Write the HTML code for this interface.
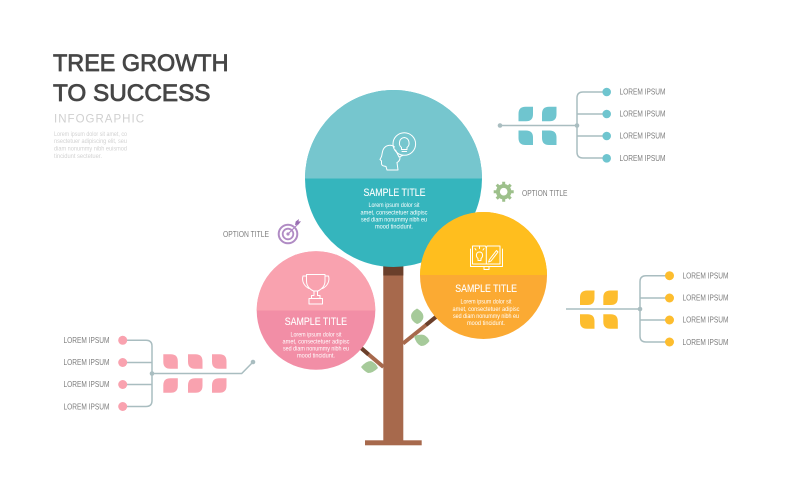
<!DOCTYPE html>
<html><head><meta charset="utf-8"><style>
html,body{margin:0;padding:0;background:#fff;width:790px;height:500px;overflow:hidden}
svg{display:block}
text{font-family:"Liberation Sans",sans-serif}
.l{font-size:8px;fill:#7d7d7d}
.t{font-size:11px;fill:#fff;stroke:#fff;stroke-width:.12}
.p{font-size:6px;fill:#fff;text-anchor:middle}
.g{font-size:6.5px;fill:#d2d2d2}
.w{fill:none;stroke:#fff;stroke-width:1;stroke-linejoin:round;stroke-linecap:round}
.c{fill:none;stroke:#a9bdc0;stroke-width:1.5}
.h{font-size:24.5px;fill:#464646;stroke:#464646;stroke-width:.8}
</style></head><body>
<svg width="790" height="500" viewBox="0 0 790 500" xmlns="http://www.w3.org/2000/svg">
<defs>
<path id="a" d="M14.5,0V7.5Q14.5,14.5 7.5,14.5H0V7Q0,0 7,0Z"/>
<path id="b" d="M0,0H7.5Q14.5,0 14.5,7V14.5H7Q0,14.5 0,7.5Z"/>
<clipPath id="c1"><rect x="300" y="85" width="190" height="93.5"/></clipPath>
<clipPath id="c2"><rect x="415" y="205" width="140" height="70"/></clipPath>
<clipPath id="c3"><rect x="250" y="245" width="130" height="65.5"/></clipPath>
</defs>

<text class="h" x="53" y="71" textLength="175.5" lengthAdjust="spacingAndGlyphs">TREE GROWTH</text>
<text class="h" x="53" y="101" textLength="157.5" lengthAdjust="spacingAndGlyphs">TO SUCCESS</text>
<text x="54" y="122.5" font-size="11.5" fill="#d0d0d0" textLength="90">INFOGRAPHIC</text>
<text class="g" x="54" y="136" textLength="73" lengthAdjust="spacingAndGlyphs">Lorem ipsum dolor sit amet, co</text>
<text class="g" x="54" y="143" textLength="73" lengthAdjust="spacingAndGlyphs">nsectetuer adipiscing elit, seu</text>
<text class="g" x="54" y="150.5" textLength="73" lengthAdjust="spacingAndGlyphs">diam nonummy nibh euismod</text>
<text class="g" x="54" y="158" textLength="48" lengthAdjust="spacingAndGlyphs">tincidunt sectetuer.</text>

<!-- tree -->
<rect x="383.3" y="262" width="20" height="180" fill="#a7694c"/>
<rect x="383.3" y="262" width="20" height="13.5" fill="#6a3f2b"/>
<rect x="365" y="440.3" width="56.7" height="5" fill="#a7694c"/>
<path d="M403,343.5L436,317" stroke="#a7694c" stroke-width="4" fill="none"/>
<path d="M426,325L437,316" stroke="#6a3f2b" stroke-width="4" fill="none"/>
<path d="M383.5,367L361,348" stroke="#a7694c" stroke-width="4" fill="none"/>
<path d="M368.5,354.5L360,347" stroke="#6a3f2b" stroke-width="4" fill="none"/>
<path d="M417,308.5Q425,313 423,319Q421,323 417,324Q411,321 411,316Q411,312 417,308.5Z" fill="#a6ca9a"/>
<path d="M414,336Q420,334 424,335Q428,337 429.5,341Q426,346 421,346Q416,344 414,336Z" fill="#a6ca9a"/>
<path d="M361,367Q366,361 371,361Q376,363 378,368Q373,373 368,373Q364,371 361,367Z" fill="#a6ca9a"/>

<!-- teal -->
<circle cx="393.5" cy="178.5" r="88.5" fill="#35b5bd"/>
<circle cx="393.5" cy="178.5" r="88.5" fill="#76c6ce" clip-path="url(#c1)"/>
<!-- pink -->
<circle cx="316" cy="310.5" r="59.3" fill="#f28ea6"/>
<circle cx="316" cy="310.5" r="59.3" fill="#f9a2af" clip-path="url(#c3)"/>
<!-- yellow -->
<circle cx="483.5" cy="275.5" r="63.5" fill="#fbaa33"/>
<circle cx="483.5" cy="275.5" r="63.5" fill="#ffbe1e" clip-path="url(#c2)"/>

<!-- head icon -->
<g class="w">
<circle cx="404.3" cy="144" r="11.3"/>
<path d="M401.5,149.5V147.5C398,145 399,138 404.3,137.5C409.5,138 410.5,145 407,147.5V149.5ZM402,151.5H406.6"/>
<path d="M395.5,150L399,157L403,155.3"/>
<path d="M394.5,147C391,144 385,145 383,150C382,153 382,155 381.5,156.5L380,159.5L381.5,161V163.5C381.5,166 384,166 386,166.5L387,170H398L397,162.5C399,161.5 400,160 400,157.5"/>
</g>
<text class="t" x="363.5" y="196" textLength="62" lengthAdjust="spacingAndGlyphs">SAMPLE TITLE</text>
<text class="p" x="394" y="207" textLength="51" lengthAdjust="spacingAndGlyphs">Lorem ipsum dolor sit</text>
<text class="p" x="394" y="214.5" textLength="67" lengthAdjust="spacingAndGlyphs">amet, consectetuer adipisc</text>
<text class="p" x="394" y="221.5" textLength="66" lengthAdjust="spacingAndGlyphs">sed diam nonummy nibh eu</text>
<text class="p" x="394" y="228.5" textLength="38" lengthAdjust="spacingAndGlyphs">mood tincidunt.</text>

<!-- book icon -->
<g class="w">
<path d="M472.5,246H485.5L486.3,248L487,246H500V264H472.5Z"/>
<path d="M470.5,249V266.5H502.5V249"/>
<path d="M486.3,248V264"/>
<path d="M484,267V269.5H489V267"/>
<path d="M478,260.5V258.5C475.5,256.5 476,252 479.5,252C483,252 483.5,256.5 481,258.5V260.5Z"/>
<path d="M475,248.5L476,250M479.5,246.5V248.5M484,248.5L483,250"/>
<path d="M496.5,250.5L498,252L491,261L488.5,262L489.5,259.5Z"/>
</g>
<text class="t" x="455.3" y="292" textLength="61.7" lengthAdjust="spacingAndGlyphs">SAMPLE TITLE</text>
<text class="p" x="486" y="303.7" textLength="51" lengthAdjust="spacingAndGlyphs">Lorem ipsum dolor sit</text>
<text class="p" x="486" y="311" textLength="67" lengthAdjust="spacingAndGlyphs">amet, consectetuer adipisc</text>
<text class="p" x="486" y="318" textLength="66" lengthAdjust="spacingAndGlyphs">sed diam nonummy nibh eu</text>
<text class="p" x="486" y="325" textLength="38" lengthAdjust="spacingAndGlyphs">mood tincidunt.</text>

<!-- trophy icon -->
<g class="w">
<path d="M306.5,274.5H325V281C325,287 320,290 318,291H313.5C311,290 306.5,287 306.5,281Z"/>
<path d="M306.5,276H303C301.5,281 304,286 309,288.5M325,276H328.5C330,281 327.5,286 322.5,288.5"/>
<path d="M314,291V295.5H311.5V298.5H320V295.5H317.5V291"/>
<rect x="309" y="298.5" width="13.5" height="5.5"/>
</g>
<text class="t" x="284.7" y="325" textLength="62.3" lengthAdjust="spacingAndGlyphs">SAMPLE TITLE</text>
<text class="p" x="316" y="336.3" textLength="51" lengthAdjust="spacingAndGlyphs">Lorem ipsum dolor sit</text>
<text class="p" x="316" y="343.5" textLength="67" lengthAdjust="spacingAndGlyphs">amet, consectetuer adipisc</text>
<text class="p" x="316" y="350.5" textLength="66" lengthAdjust="spacingAndGlyphs">sed diam nonummy nibh eu</text>
<text class="p" x="316" y="357.5" textLength="38" lengthAdjust="spacingAndGlyphs">mood tincidunt.</text>

<!-- target -->
<g fill="none" stroke="#b08bc4">
<circle cx="288" cy="234" r="9.3" stroke-width="2"/>
<circle cx="288" cy="234" r="5.3" stroke-width="1.8"/>
<circle cx="288" cy="234" r="1.6" fill="#b08bc4" stroke="none"/>
<path d="M288,234L298,224" stroke-width="1.2"/>
<path d="M295,225L295.7,221.5L299,219L298.5,221.5L301,221.3L298.5,224.5L295,225Z" fill="#9a6fb3" stroke="none"/>
</g>
<text class="l" x="223" y="237" textLength="46" lengthAdjust="spacingAndGlyphs">OPTION TITLE</text>

<!-- gear -->
<g transform="translate(503.7 191.7)">
<circle r="5.7" fill="none" stroke="#9dc08b" stroke-width="4"/>
<path d="M0,-10V10M-10,0H10M-7,-7L7,7M7,-7L-7,7" stroke="#9dc08b" stroke-width="3"/>
<circle r="3.8" fill="#fff"/>
</g>
<text class="l" x="522" y="196" textLength="45.5" lengthAdjust="spacingAndGlyphs">OPTION TITLE</text>

<!-- teal tree -->
<path class="c" d="M500,125.5H577M607,92H583Q577,92 577,98V152Q577,158 583,158H607M577,114H607M577,136H607"/>
<circle cx="500" cy="125.5" r="2.3" fill="#a9bdc0"/><circle cx="577" cy="125.5" r="2.3" fill="#a9bdc0"/>
<g fill="#6fc5cf">
<circle cx="606.7" cy="92" r="4.3"/><circle cx="606.7" cy="114" r="4.3"/><circle cx="606.7" cy="136" r="4.3"/><circle cx="606.7" cy="158.3" r="4.3"/>
<use href="#a" x="518.5" y="106.7"/><use href="#a" x="542" y="106.7"/>
<use href="#b" x="518.5" y="130.5"/><use href="#b" x="542" y="130.5"/>
</g>
<text class="l" x="619.5" y="94.5" textLength="46" lengthAdjust="spacingAndGlyphs">LOREM IPSUM</text>
<text class="l" x="619.5" y="116.7" textLength="46" lengthAdjust="spacingAndGlyphs">LOREM IPSUM</text>
<text class="l" x="619.5" y="138.7" textLength="46" lengthAdjust="spacingAndGlyphs">LOREM IPSUM</text>
<text class="l" x="619.5" y="161" textLength="46" lengthAdjust="spacingAndGlyphs">LOREM IPSUM</text>

<!-- yellow tree -->
<path class="c" d="M566,309H640M669,275.7H646Q640,275.7 640,281.7V336Q640,342 646,342H669M640,298H669M640,320H669"/>
<circle cx="640" cy="309" r="2.3" fill="#a9bdc0"/>
<g fill="#fdbd2e">
<circle cx="669.5" cy="275.7" r="4.5"/><circle cx="669.5" cy="298" r="4.5"/><circle cx="669.5" cy="320" r="4.5"/><circle cx="669.5" cy="342" r="4.5"/>
<use href="#a" x="580" y="290.5"/><use href="#a" x="603.3" y="290.5"/>
<use href="#b" x="580" y="314.3"/><use href="#b" x="603.3" y="314.3"/>
</g>
<text class="l" x="682.5" y="278.5" textLength="46" lengthAdjust="spacingAndGlyphs">LOREM IPSUM</text>
<text class="l" x="682.5" y="300.7" textLength="46" lengthAdjust="spacingAndGlyphs">LOREM IPSUM</text>
<text class="l" x="682.5" y="322.7" textLength="46" lengthAdjust="spacingAndGlyphs">LOREM IPSUM</text>
<text class="l" x="682.5" y="345" textLength="46" lengthAdjust="spacingAndGlyphs">LOREM IPSUM</text>

<!-- pink tree -->
<path class="c" d="M253,362L241.7,373.5H152M123,340.3H146Q152,340.3 152,346.3V400.5Q152,406.5 146,406.5H123M123,362.5H152M123,384.5H152"/>
<circle cx="152" cy="373.5" r="2.3" fill="#a9bdc0"/><circle cx="253" cy="362" r="2.3" fill="#a9bdc0"/>
<g fill="#f9a2af">
<circle cx="122.7" cy="340.3" r="4.5"/><circle cx="122.7" cy="362.5" r="4.5"/><circle cx="122.7" cy="384.5" r="4.5"/><circle cx="122.7" cy="406.5" r="4.5"/>
<use href="#b" x="163.3" y="354.3"/><use href="#b" x="188" y="354.3"/><use href="#b" x="212" y="354.3"/>
<use href="#a" x="163.3" y="378.3"/><use href="#a" x="188" y="378.3"/><use href="#a" x="212" y="378.3"/>
</g>
<text class="l" x="63.5" y="343" textLength="46" lengthAdjust="spacingAndGlyphs">LOREM IPSUM</text>
<text class="l" x="63.5" y="365" textLength="46" lengthAdjust="spacingAndGlyphs">LOREM IPSUM</text>
<text class="l" x="63.5" y="387" textLength="46" lengthAdjust="spacingAndGlyphs">LOREM IPSUM</text>
<text class="l" x="63.5" y="409.3" textLength="46" lengthAdjust="spacingAndGlyphs">LOREM IPSUM</text>
</svg>
</body></html>
